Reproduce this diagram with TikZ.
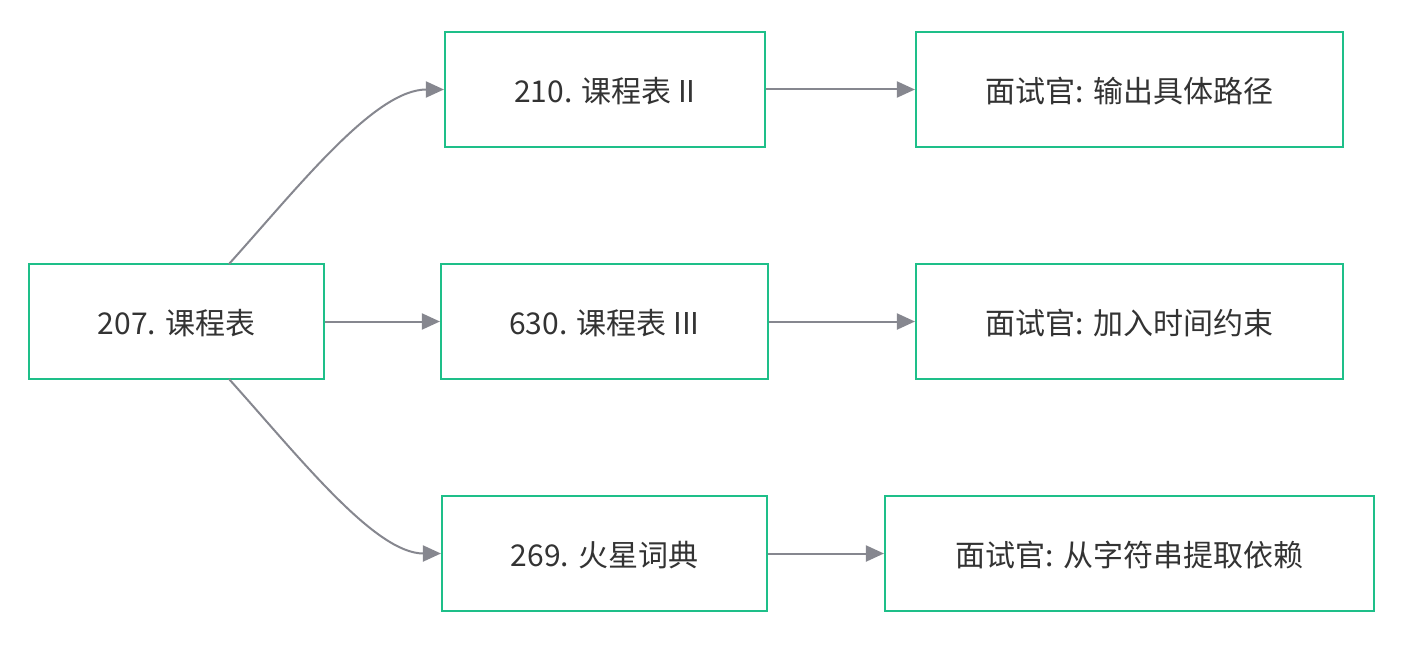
\documentclass[tikz,border=0pt]{standalone}
\usepackage{fontspec}
\setmainfont{Noto Sans CJK SC}
\usetikzlibrary{arrows.meta,calc}
\definecolor{boxgreen}{HTML}{1EBF89}
\definecolor{edgegray}{HTML}{86878F}
\definecolor{txt}{HTML}{333333}
\tikzset{
  box/.style={draw=boxgreen, line width=1.6pt, fill=white, text=txt, minimum height=86.25pt, inner sep=0pt, text depth=-2pt, font=\fontsize{22.5pt}{26pt}\selectfont},
  conn/.style={draw=edgegray, line width=1.5pt, -{Triangle[length=13.5pt,width=12pt]}},
}
\begin{document}
\begin{tikzpicture}[x=0.75pt,y=-0.75pt]
\useasboundingbox (0,0) rectangle (1412,656);
\node[box, minimum width=221.25pt] (A) at (176.5,321.5) {207. 课程表};
\node[box, minimum width=240pt] (B) at (605,89.5) {210. 课程表 II};
\node[box, minimum width=245.25pt] (C) at (604.5,321.5) {630. 课程表 III};
\node[box, minimum width=243.75pt] (D) at (604.5,553.5) {269. 火星词典};
\node[box, minimum width=320.25pt] (E) at (1129.5,89.5) {面试官: 输出具体路径};
\node[box, minimum width=320.25pt] (F) at (1129.5,321.5) {面试官: 加入时间约束};
\node[box, minimum width=366.75pt] (G) at (1129.5,553.5) {面试官: 从字符串提取依赖};
\coordinate (Atop) at (229,264);
\coordinate (Abot) at (229,379);
\draw[conn] (Atop) .. controls (300,185) and (375,89.5) .. (B.west);
\draw[conn] (A.east) -- (C.west);
\draw[conn] (Abot) .. controls (300,458) and (375,553.5) .. (D.west);
\draw[conn] (B.east) -- (E.west);
\draw[conn] (C.east) -- (F.west);
\draw[conn] (D.east) -- (G.west);
\end{tikzpicture}
\end{document}
